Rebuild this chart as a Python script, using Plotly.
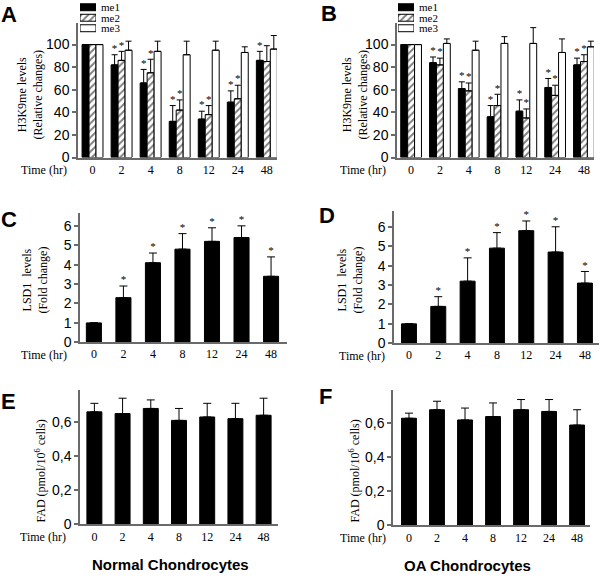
import plotly.graph_objects as go

# ---------------- data ----------------
times = ["0", "2", "4", "8", "12", "24", "48"]

A_me1 = [100, 82, 66, 32, 34, 49, 86]
A_me1_err = [0, 9, 12, 14, 7, 10, 8]
A_me2 = [100, 86, 75, 42, 38, 52, 85]
A_me2_err = [0, 8, 12, 9, 8, 12, 14]
A_me3 = [100, 95, 94, 91, 95, 93, 96]
A_me3_err = [0, 8, 9, 12, 8, 5, 12]
A_sig_me1 = [0, 1, 1, 1, 1, 1, 1]
A_sig_me2 = [0, 1, 1, 1, 1, 1, 0]
A_sig_me3 = [0, 0, 0, 0, 0, 0, 0]

B_me1 = [100, 84, 61, 36, 41, 62, 82]
B_me1_err = [0, 5, 6, 10, 10, 8, 6]
B_me2 = [100, 82, 59, 46, 35, 55, 85]
B_me2_err = [0, 6, 7, 10, 8, 9, 6]
B_me3 = [100, 101, 95, 101, 101, 93, 98]
B_me3_err = [0, 4, 8, 6, 14, 12, 5]
B_sig_me1 = [0, 1, 1, 1, 1, 1, 1]
B_sig_me2 = [0, 1, 1, 1, 1, 1, 1]
B_sig_me3 = [0, 0, 0, 0, 0, 0, 0]

C_lsd1 = [1.0, 2.3, 4.1, 4.8, 5.2, 5.4, 3.4]
C_lsd1_err = [0, 0.6, 0.5, 0.8, 0.7, 0.6, 1.0]
C_sig = [0, 1, 1, 1, 1, 1, 1]

D_lsd1 = [1.0, 1.9, 3.2, 4.9, 5.8, 4.7, 3.1]
D_lsd1_err = [0, 0.5, 1.2, 0.8, 0.5, 1.3, 0.6]
D_sig = [0, 1, 1, 1, 1, 1, 1]

E_fad = [0.66, 0.65, 0.68, 0.61, 0.63, 0.62, 0.64]
E_fad_err = [0.05, 0.09, 0.05, 0.07, 0.08, 0.09, 0.10]

F_fad = [0.63, 0.68, 0.62, 0.64, 0.68, 0.67, 0.59]
F_fad_err = [0.03, 0.05, 0.07, 0.08, 0.06, 0.07, 0.09]

series_names = ["me1", "me2", "me3"]

W, H = 600, 578
SERIF = "Liberation Serif, Times New Roman, serif"
SANS = "Liberation Sans, Arial, sans-serif"
AXC = "#6a6a6a"


def px(x):
    return x / W


def py(y):
    return 1 - y / H


fig = go.Figure()

styles = [
    dict(color="black", pattern=None),
    dict(color="white", pattern=dict(shape="/", fgcolor="black", bgcolor="white", size=5, solidity=0.4)),
    dict(color="white", pattern=None),
]


def bar_marker(k):
    m = dict(color=styles[k]["color"], line=dict(color="black", width=1))
    if styles[k]["pattern"]:
        m["pattern"] = styles[k]["pattern"]
    return m


def add_grouped(xa, ya, vals, errs, sigs):
    bw = 0.24
    offs = [-bw, 0, bw]
    for k in range(3):
        xs = [i + offs[k] for i in range(len(times))]
        fig.add_trace(go.Bar(
            x=xs, y=vals[k], width=bw, marker=bar_marker(k),
            error_y=dict(type="data", array=errs[k], arrayminus=[0] * len(times),
                         symmetric=False, color="black", thickness=1, width=3),
            xaxis=xa, yaxis=ya, showlegend=False, hoverinfo="skip"))
        sx = [xs[i] for i in range(len(times)) if sigs[k][i]]
        sy = [vals[k][i] + errs[k][i] for i in range(len(times)) if sigs[k][i]]
        if sx:
            fig.add_trace(go.Scatter(
                x=sx, y=sy, mode="text", text=["*"] * len(sx), textposition="top center",
                textfont=dict(family=SERIF, size=11, color="black"),
                xaxis=xa, yaxis=ya, showlegend=False, hoverinfo="skip", cliponaxis=False))


def add_single(xa, ya, vals, errs, sigs, bw):
    xs = list(range(len(times)))
    fig.add_trace(go.Bar(
        x=xs, y=vals, width=bw, marker=dict(color="black", line=dict(color="black", width=1)),
        error_y=dict(type="data", array=errs, arrayminus=[0] * len(times),
                     symmetric=False, color="black", thickness=1, width=4),
        xaxis=xa, yaxis=ya, showlegend=False, hoverinfo="skip"))
    if sigs:
        sx = [i for i in xs if sigs[i]]
        sy = [vals[i] + errs[i] for i in xs if sigs[i]]
        fig.add_trace(go.Scatter(
            x=sx, y=sy, mode="text", text=["*"] * len(sx), textposition="top center",
            textfont=dict(family=SERIF, size=11, color="black"),
            xaxis=xa, yaxis=ya, showlegend=False, hoverinfo="skip", cliponaxis=False))


add_grouped("x", "y", [A_me1, A_me2, A_me3], [A_me1_err, A_me2_err, A_me3_err],
            [A_sig_me1, A_sig_me2, A_sig_me3])
add_grouped("x2", "y2", [B_me1, B_me2, B_me3], [B_me1_err, B_me2_err, B_me3_err],
            [B_sig_me1, B_sig_me2, B_sig_me3])
add_single("x3", "y3", C_lsd1, C_lsd1_err, C_sig, 0.51)
add_single("x4", "y4", D_lsd1, D_lsd1_err, D_sig, 0.51)
add_single("x5", "y5", E_fad, E_fad_err, None, 0.53)
add_single("x6", "y6", F_fad, F_fad_err, None, 0.53)

# legend swatches (inset axes) for A and B
for xa, ya in [("x7", "y7"), ("x8", "y8")]:
    for k in range(3):
        fig.add_trace(go.Bar(
            x=[1], y=[2 - k], orientation="h", width=0.66, marker=bar_marker(k),
            xaxis=xa, yaxis=ya, showlegend=False, hoverinfo="skip"))

# ---------------- axes ----------------
panels = {
    "1": (78, 277, [-0.5, 6.35], 159, 22, [0, 119.4], [0, 20, 40, 60, 80, 100],
          ["0", "20", "40", "60", "80", "100"]),
    "2": (397, 594, [-0.49, 6.35], 159, 22, [0, 119.4], [0, 20, 40, 60, 80, 100],
          ["0", "20", "40", "60", "80", "100"]),
    "3": (80, 287, [-0.47, 6.54], 346.7, 215, [0, 6.68], [0, 1, 2, 3, 4, 5, 6],
          ["0", "1", "2", "3", "4", "5", "6"]),
    "4": (394, 599, [-0.51, 6.48], 347.7, 213, [0, 6.83], [0, 1, 2, 3, 4, 5, 6],
          ["0", "1", "2", "3", "4", "5", "6"]),
    "5": (80, 278, [-0.51, 6.51], 531.7, 395, [0, 0.789], [0, 0.2, 0.4, 0.6],
          ["0", "0,2", "0,4", "0,6"]),
    "6": (393, 590, [-0.57, 6.46], 532.7, 395, [0, 0.797], [0, 0.2, 0.4, 0.6],
          ["0", "0,2", "0,4", "0,6"]),
}

layout = dict(width=W, height=H, margin=dict(l=0, r=0, t=0, b=0),
              paper_bgcolor="white", plot_bgcolor="white", showlegend=False,
              barmode="overlay")

for n, (x0, x1, xr, yb, yt, yr, tv, tt) in panels.items():
    xk = "xaxis" if n == "1" else f"xaxis{n}"
    yk = "yaxis" if n == "1" else f"yaxis{n}"
    yid = "y" if n == "1" else f"y{n}"
    xid = "x" if n == "1" else f"x{n}"
    layout[xk] = dict(domain=[px(x0), px(x1)], range=xr, anchor=yid,
                      showline=True, linecolor=AXC, linewidth=1.5, ticks="",
                      tickvals=list(range(len(times))), ticktext=times,
                      tickfont=dict(family=SERIF, size=12, color="black"),
                      showgrid=False, zeroline=False, fixedrange=True)
    layout[yk] = dict(domain=[py(yb), py(yt)], range=yr, anchor=xid,
                      showline=True, linecolor=AXC, linewidth=1.5, ticks="outside",
                      ticklen=4, tickcolor=AXC, tickwidth=1.5,
                      tickvals=tv, ticktext=tt,
                      tickfont=dict(family=SANS, size=14, color="black"),
                      showgrid=False, zeroline=False, fixedrange=True)

for n, x0 in [("7", 80), ("8", 398)]:
    layout[f"xaxis{n}"] = dict(domain=[px(x0), px(x0 + 16)], range=[0, 1], anchor=f"y{n}",
                               visible=False, fixedrange=True)
    layout[f"yaxis{n}"] = dict(domain=[py(33), py(1)], range=[-0.5, 2.5], anchor=f"x{n}",
                               side="right", showline=False, ticks="", showgrid=False,
                               zeroline=False, tickvals=[2, 1, 0], ticktext=series_names,
                               ticklabeloverflow="allow", ticklabelstandoff=4,
                               tickfont=dict(family=SERIF, size=11, color="black"),
                               fixedrange=True)

annotations = []


def ann(text, x, y, size, family, bold=False, angle=0):
    annotations.append(dict(
        text=f"<b>{text}</b>" if bold else text, x=px(x), y=py(y), xref="paper", yref="paper",
        showarrow=False, xanchor="center", yanchor="middle", textangle=angle,
        font=dict(family=family, size=size, color="black")))


for t, x, y in [("A", 9, 14), ("B", 329, 13), ("C", 9, 222), ("D", 327, 218),
                ("E", 8, 407), ("F", 325, 402)]:
    ann(t, x, y, 22, SANS, bold=True)

for x, y in [(44, 172), (363, 172), (44, 360), (362, 361), (43, 544), (363, 545)]:
    ann("Time (hr)", x, y, 12, SERIF)

ann("H3K9me levels<br>(Relative changes)", 30, 95, 12, SERIF, angle=-90)
ann("H3K9me levels<br>(Relative changes)", 355, 95, 12, SERIF, angle=-90)
ann("LSD1  levels<br>(Fold change)", 35, 284, 12, SERIF, angle=-90)
ann("LSD1  levels<br>(Fold change)", 350, 284, 12, SERIF, angle=-90)
ann("FAD (pmol/10<sup>6</sup> cells)", 41, 478, 12, SERIF, angle=-90)
ann("FAD (pmol/10<sup>6</sup> cells)", 355, 478, 12, SERIF, angle=-90)

ann("Normal Chondrocytes", 170, 572, 15, SANS, bold=True)
ann("OA Chondrocytes", 467, 573, 15, SANS, bold=True)

layout["annotations"] = annotations
fig.update_layout(**layout)

fig.write_html("out.html", config={"displayModeBar": False},
               post_script="document.body.style.margin='0';document.body.style.overflow='hidden';")
